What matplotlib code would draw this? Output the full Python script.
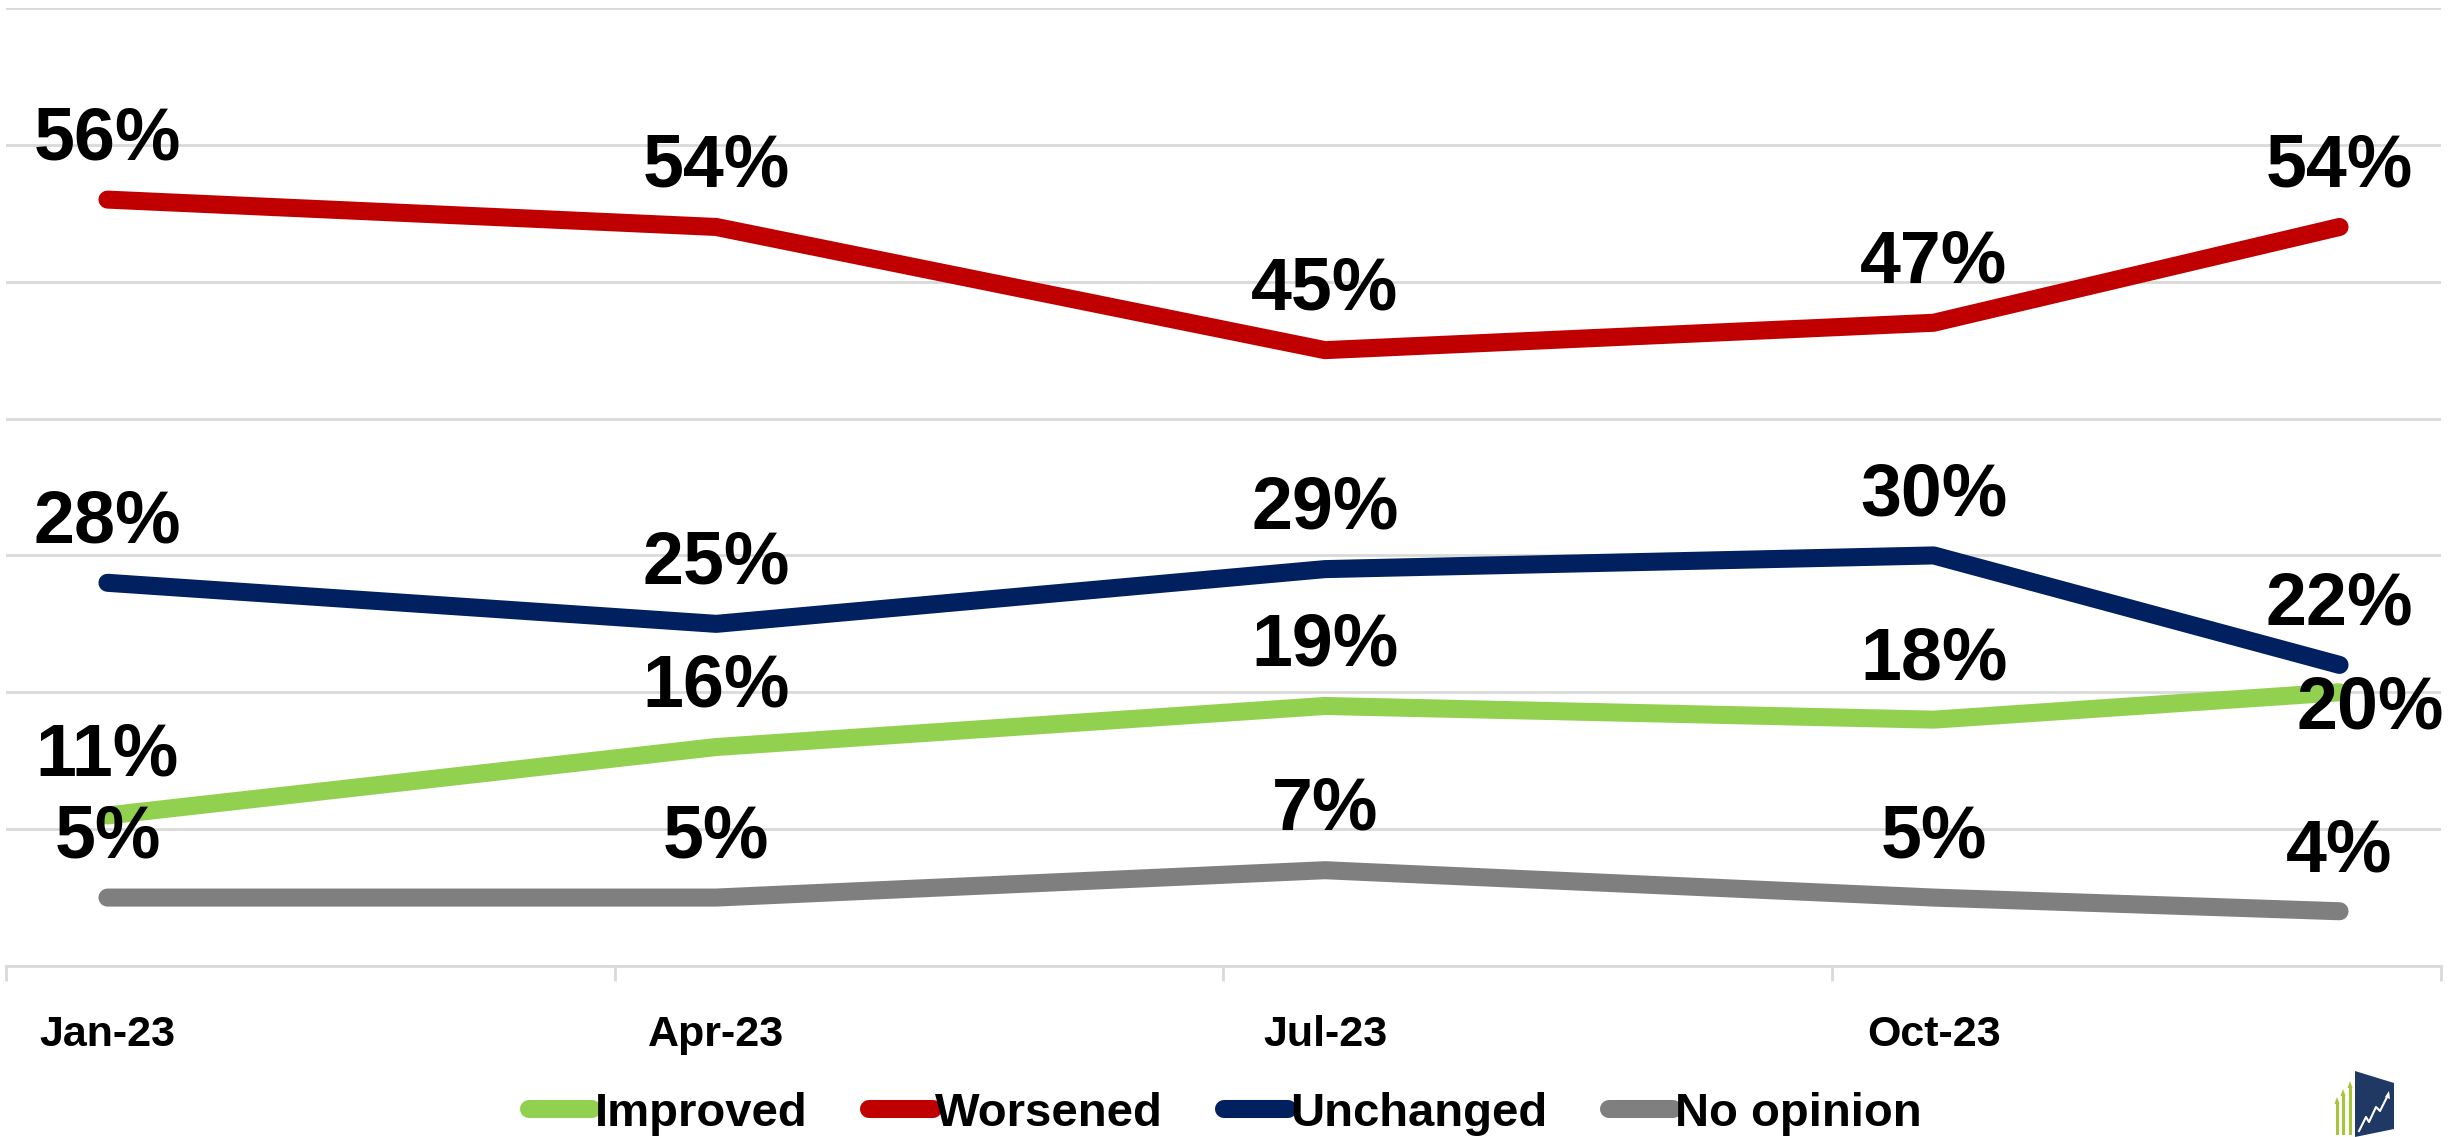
# coding: utf-8

import matplotlib
matplotlib.use('Agg')
from matplotlib import pyplot as plt
from matplotlib import font_manager
from matplotlib.patches import Polygon

## data
months  = [0, 3, 6, 9, 11]          # Jan-23 .. Dec-23, month index
labels  = ['Jan-23', 'Apr-23', 'Jul-23', 'Oct-23']
label_x = [0, 3, 6, 9]

improved   = [11, 16, 19, 18, 20]
worsened   = [56, 54, 45, 47, 54]
unchanged  = [28, 25, 29, 30, 22]
no_opinion = [5, 5, 7, 5, 4]

series = [
    ('Improved',   improved,   '#92D050'),
    ('Worsened',   worsened,   '#C00000'),
    ('Unchanged',  unchanged,  '#002060'),
    ('No opinion', no_opinion, '#7F7F7F'),
]

## font: something narrow and bold, like Calibri
names = {f.name for f in font_manager.fontManager.ttflist}
FONT = 'Liberation Sans Narrow' if 'Liberation Sans Narrow' in names else 'Liberation Sans'
plt.rcParams['font.family'] = [FONT, 'DejaVu Sans']
plt.rcParams['font.weight'] = 'bold'

GRID = '#D9D9D9'

fig = plt.figure(figsize=(24.53, 11.37), dpi=100)
ax = fig.add_axes([6/2453, 1 - 966/1137, 2435/2453, 958/1137])

for name, vals, col in series:
    ax.plot(months, vals, color=col, lw=13, solid_capstyle='round',
            solid_joinstyle='round', label=name)

# data labels above the points (last green one goes right/below)
for name, vals, col in series:
    for i, (x, v) in enumerate(zip(months, vals)):
        off = (0, 43)
        if name == 'Improved' and i == len(vals) - 1:
            off = (22, -12)
        ax.annotate('{}%'.format(v), (x, v), xytext=off, textcoords='offset points',
                    ha='center', va='center', fontsize=53, fontweight='bold',
                    color='black')

ax.set_xlim(-0.5, 11.5)
ax.set_ylim(0, 70)

# gridlines every 10%
ax.set_yticks(range(0, 71, 10))
ax.yaxis.grid(True, color=GRID, lw=2)
ax.tick_params(axis='y', length=0, labelleft=False)

# category boundaries as major ticks, labels on minor ticks
ax.set_xticks([-0.5, 2.5, 5.5, 8.5, 11.5])
ax.set_xticklabels([])
ax.tick_params(axis='x', which='major', direction='out', length=11, width=2, color=GRID)
ax.set_xticks(label_x, minor=True)
ax.set_xticklabels(labels, minor=True, fontsize=31, fontweight='bold')
ax.tick_params(axis='x', which='minor', length=0, pad=35)

for s in ['top', 'left', 'right']:
    ax.spines[s].set_visible(False)
ax.spines['bottom'].set_color(GRID)
ax.spines['bottom'].set_linewidth(2)

leg = fig.legend(ncol=4, loc='center', bbox_to_anchor=(0.4995, 1 - 1114/1137),
                 frameon=False, fontsize=34, handlelength=1.35, handletextpad=0.05,
                 columnspacing=1.3, borderpad=0, borderaxespad=0)
for t in leg.get_texts():
    t.set_fontweight('bold')

## small logo bottom right (pixel units)
lg = fig.add_axes([2330/2453, 0, 70/2453, 70/1137])
lg.set_xlim(0, 70)
lg.set_ylim(0, 70)
lg.axis('off')
for x0, top in [(7, 40), (13, 48), (20, 56)]:
    lg.plot([x0, x0], [4, top - 6], color='#A7C539', lw=2.2)
    lg.add_patch(Polygon([[x0 - 2.5, top - 7], [x0 + 2.5, top - 7], [x0, top]],
                         closed=True, color='#A7C539', lw=0))
lg.add_patch(Polygon([[25, 0], [25, 66], [64, 54], [64, 8]], closed=True,
                     color='#1F3864', lw=0))
lg.plot([29, 36, 39, 46, 50, 58], [6, 20, 15, 30, 26, 42], color='white', lw=1.5)
lg.add_patch(Polygon([[55, 40], [60, 38], [59, 46]], closed=True, color='white', lw=0))

fig.savefig('out.png', dpi=100)
